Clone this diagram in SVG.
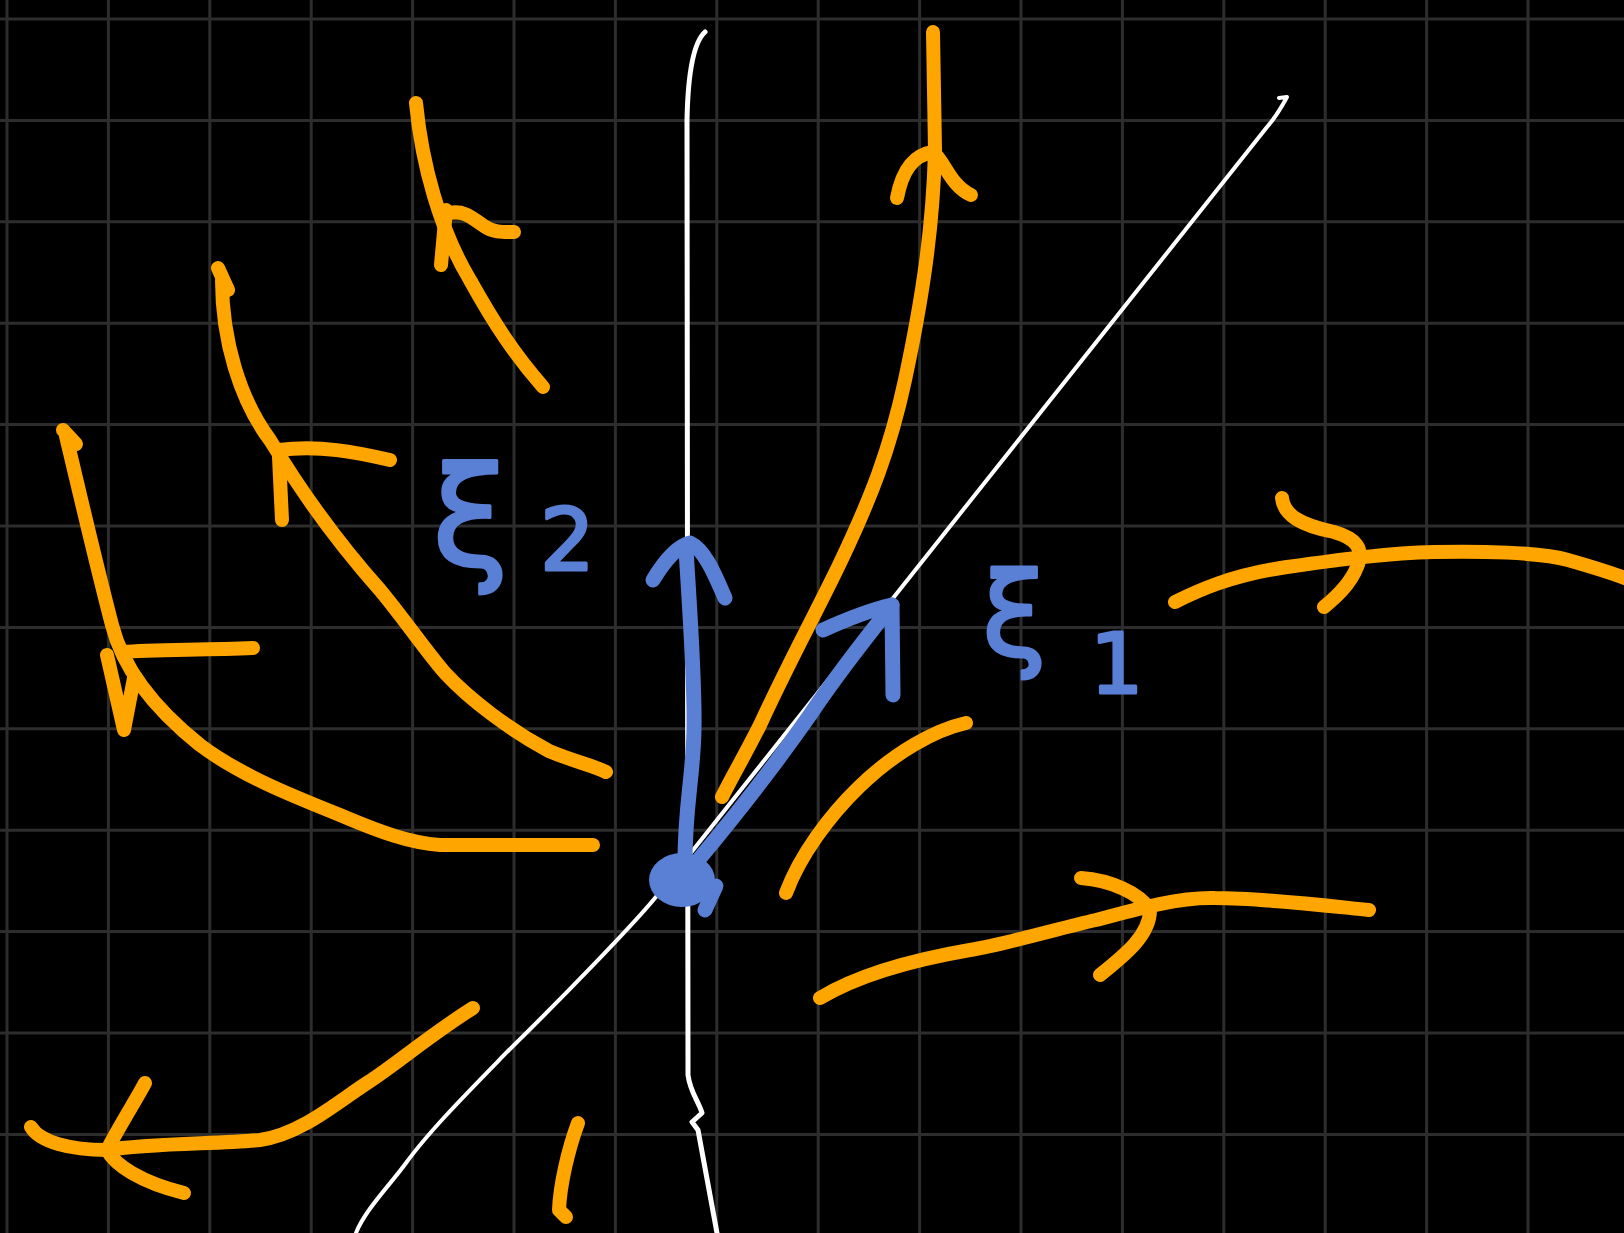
<svg xmlns="http://www.w3.org/2000/svg" width="1624" height="1233" viewBox="0 0 1624 1233">
<style>
.grid line{stroke:#2d2d2d;stroke-width:3}
.w{fill:none;stroke:#ffffff;stroke-linecap:round;stroke-linejoin:round}
.o{fill:none;stroke:#ffa500;stroke-width:14;stroke-linecap:round;stroke-linejoin:round}
.b{fill:none;stroke:#5a80d6;stroke-width:15;stroke-linecap:round;stroke-linejoin:round}
.lbl{fill:#5a80d6;stroke:#5a80d6;stroke-width:3;stroke-linejoin:round;font-family:"DejaVu Sans",sans-serif}
</style>
<rect x="0" y="0" width="1624" height="1233" fill="#000000"/>
<g id="grid" class="grid">
<line x1="7" y1="0" x2="7" y2="1233"/><line x1="108.4" y1="0" x2="108.4" y2="1233"/><line x1="209.8" y1="0" x2="209.8" y2="1233"/><line x1="311.2" y1="0" x2="311.2" y2="1233"/><line x1="412.6" y1="0" x2="412.6" y2="1233"/><line x1="514" y1="0" x2="514" y2="1233"/><line x1="615.4" y1="0" x2="615.4" y2="1233"/><line x1="716.8" y1="0" x2="716.8" y2="1233"/><line x1="818.2" y1="0" x2="818.2" y2="1233"/><line x1="919.6" y1="0" x2="919.6" y2="1233"/><line x1="1021" y1="0" x2="1021" y2="1233"/><line x1="1122.4" y1="0" x2="1122.4" y2="1233"/><line x1="1223.8" y1="0" x2="1223.8" y2="1233"/><line x1="1325.2" y1="0" x2="1325.2" y2="1233"/><line x1="1426.6" y1="0" x2="1426.6" y2="1233"/><line x1="1528" y1="0" x2="1528" y2="1233"/>
<line x1="0" y1="19" x2="1624" y2="19"/><line x1="0" y1="120.4" x2="1624" y2="120.4"/><line x1="0" y1="221.8" x2="1624" y2="221.8"/><line x1="0" y1="323.2" x2="1624" y2="323.2"/><line x1="0" y1="424.6" x2="1624" y2="424.6"/><line x1="0" y1="526" x2="1624" y2="526"/><line x1="0" y1="627.4" x2="1624" y2="627.4"/><line x1="0" y1="728.8" x2="1624" y2="728.8"/><line x1="0" y1="830.2" x2="1624" y2="830.2"/><line x1="0" y1="931.6" x2="1624" y2="931.6"/><line x1="0" y1="1033" x2="1624" y2="1033"/><line x1="0" y1="1134.4" x2="1624" y2="1134.4"/>
</g>
<g id="axes">
<path id="axis-vertical" class="w" stroke-width="5" d="M705,32 C694,42 688,70 687,120 L688,1075 C690,1092 699,1102 702,1113 L692,1122 L698,1130 L717,1233"/>
<path id="axis-diagonal" class="w" stroke-width="4" d="M1279,98 L1287,97 C1280,110 1275,118 1267,127 L659,893 C640,918 560,1000 509,1050 C470,1090 430,1130 406,1163 C390,1185 365,1210 356,1233"/>
</g>
<g id="trajectories">
<g id="traj-top-left">
<path class="o" d="M416,103 C422,165 440,230 470,280 C495,325 515,355 543,387"/>
<path class="o" d="M441,265 L446,210 M450,213 C464,210 472,218 484,226 C494,233 504,232 514,232"/>
</g>
<g id="traj-top-right">
<path class="o" d="M933,32 L935,150 C933,230 922,300 905,380 C890,450 870,500 840,563 C815,615 790,660 760,725 C745,755 733,775 722,797"/>
<path class="o" d="M897,198 C902,172 912,155 933,152 C945,162 950,185 971,195"/>
</g>
<g id="traj-left-2">
<path class="o" d="M218,268 L228,290 M222,280 C222,340 240,400 270,440 C300,490 340,545 380,590 C405,620 425,650 445,673 C470,700 510,730 549,751 C575,762 595,766 606,772"/>
<path class="o" d="M282,520 L279,457 M279,450 C320,445 355,452 390,460"/>
</g>
<g id="traj-left-1">
<path class="o" d="M63,430 L76,444 M66,436 C78,486 95,560 112,625 C122,665 150,705 200,745 C240,775 290,795 340,815 C380,832 410,843 440,845 L593,845"/>
<path class="o" d="M253,648 C200,650 150,650 123,652 M107,655 L124,730 L134,678"/>
</g>
<g id="traj-bottom-left">
<path class="o" d="M473,1008 C430,1035 395,1065 367,1083 S 300,1135 260,1140 C220,1144 150,1143 107,1150 C70,1150 40,1142 31,1127"/>
<path class="o" d="M145,1083 C136,1100 120,1125 107,1150 C115,1165 140,1182 184,1193"/>
</g>
<g id="traj-bottom-mark">
<path class="o" d="M578,1123 C568,1150 560,1185 559,1210 L566,1217"/>
</g>
<g id="traj-center-right">
<path class="o" d="M966,723 C935,730 895,752 859,787 C830,815 800,855 786,893"/>
</g>
<g id="traj-bottom-right">
<path class="o" d="M820,998 C850,980 900,962 970,950 C1010,943 1060,928 1096,920 C1140,908 1180,897 1215,898 C1260,898 1320,905 1369,910"/>
<path class="o" d="M1081,878 C1110,880 1140,893 1150,910 C1150,935 1125,955 1100,975"/>
</g>
<g id="traj-right">
<path class="o" d="M1175,602 C1195,592 1230,575 1287,567 S 1390,553 1434,552 S 1540,552 1568,560 S 1610,572 1630,580"/>
<path class="o" d="M1282,498 C1284,515 1300,525 1334,532 C1355,538 1365,548 1357,567 C1350,585 1335,598 1324,607"/>
</g>
</g>
<g id="eigenvectors">
<g id="v2">
<path class="b" d="M686,549 C689,600 695,680 694,730 C693,780 684,810 685,870"/>
<path class="b" d="M653,580 C665,560 678,546 690,543 C705,550 715,575 725,598"/>
</g>
<g id="v1">
<path class="b" d="M700,858 C740,810 775,765 810,715 C840,670 865,640 892,605"/>
<path class="b" d="M823,630 C845,620 870,610 892,605 L893,695"/>
</g>
<g id="origin">
<ellipse cx="682" cy="880" rx="33" ry="27" fill="#5a80d6"/>
<path class="b" d="M716,886 L705,910"/>
</g>
</g>
<g id="labels">
<g id="label-v2"><text class="lbl" x="432" y="565" font-size="138">ξ</text><text class="lbl" x="540" y="570" font-size="86">2</text></g>
<g id="label-v1"><text class="lbl" x="982" y="655" font-size="116">ξ</text><text class="lbl" x="1090" y="693" font-size="84">1</text></g>
</g>
</svg>
